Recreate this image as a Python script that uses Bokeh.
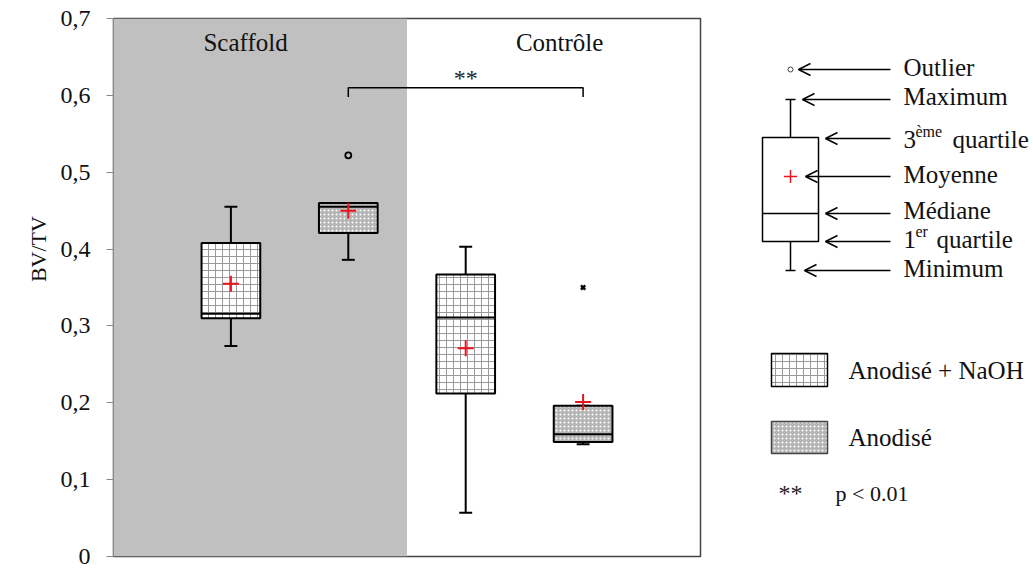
import math
from bokeh.plotting import figure
from bokeh.layouts import row
from bokeh.models import (Range1d, FixedTicker, CustomJSTickFormatter, BoxAnnotation,
                          Arrow, OpenHead, ColumnDataSource)
from bokeh.core.properties import value
from bokeh.embed import file_html
from bokeh.resources import INLINE

# ---------------- data ----------------
groups = ["Scaffold NaOH", "Scaffold Anodisé", "Contrôle NaOH", "Contrôle Anodisé"]
treatment = ["NaOH", "Anodisé", "NaOH", "Anodisé"]
positions = [2, 4, 6, 8]
minimum = [0.274, 0.386, 0.057, 0.146]
q1 = [0.310, 0.421, 0.212, 0.149]
median = [0.316, 0.455, 0.311, 0.159]
q3 = [0.408, 0.460, 0.367, 0.196]
maximum = [0.455, 0.460, 0.403, 0.196]
mean = [0.355, 0.450, 0.271, 0.201]
outlier_circle_x = [4]
outlier_circle_y = [0.522]
outlier_cross_x = [8]
outlier_cross_y = [0.350]
y_ticks = [0, 0.1, 0.2, 0.3, 0.4, 0.5, 0.6, 0.7]
section_labels = ["Scaffold", "Contrôle"]
y_title = "BV/TV"
sig_pair = [4, 8]
sig_text = "**"

FONT = value("Liberation Serif")
TXT = "#111111"
TOP, BOTTOM = 18, 12

# ---------------- y title strip ----------------
tw = 50
pt = figure(width=tw, height=568, x_range=Range1d(0, tw), y_range=Range1d(0, 0.7),
            output_backend="svg", toolbar_location=None,
            min_border_left=0, min_border_right=0, min_border_top=TOP, min_border_bottom=BOTTOM)
pt.axis.visible = False
pt.grid.visible = False
pt.outline_line_color = None
pt.text(x=[38], y=[0.40], text=[y_title], angle=math.pi / 2, text_font=FONT,
        text_font_size="22px", text_align="center", text_baseline="middle", text_color=TXT)

# ---------------- main plot ----------------
p = figure(width=708 - tw, height=568, x_range=Range1d(0, 10), y_range=Range1d(0, 0.7),
           output_backend="svg", toolbar_location=None,
           min_border_left=113 - tw, min_border_right=8, min_border_top=TOP, min_border_bottom=BOTTOM)
p.xaxis.visible = False
p.grid.visible = False
p.outline_line_color = "#444444"
p.outline_line_width = 1.5
p.background_fill_color = "white"
p.border_fill_color = "white"

yax = p.yaxis[0]
yax.ticker = FixedTicker(ticks=y_ticks)
yax.formatter = CustomJSTickFormatter(code="return tick == 0 ? '0' : tick.toFixed(1).replace('.', ',');")
yax.major_label_text_font = "Liberation Serif"
yax.major_label_text_font_size = "24px"
yax.major_label_text_color = TXT
yax.major_label_standoff = 16
yax.axis_line_color = "#888888"
yax.major_tick_line_color = "#888888"
yax.major_tick_out = 7
yax.major_tick_in = 0
yax.minor_tick_line_color = None

p.add_layout(BoxAnnotation(right=5, fill_color="#c0c0c0", fill_alpha=1.0, line_color=None, level="underlay"))

half = 0.5
cap = 0.11
styles = {
    "NaOH": dict(fill_color="white", hatch_pattern="+", hatch_color="#9a9a9a", hatch_scale=7, hatch_weight=1),
    "Anodisé": dict(fill_color="#b4b4b4", hatch_pattern="dot", hatch_color="white", hatch_scale=4, hatch_weight=1),
}

for i, x in enumerate(positions):
    p.segment(x0=[x, x], y0=[q3[i], q1[i]], x1=[x, x], y1=[maximum[i], minimum[i]],
              line_color="black", line_width=2)
    p.segment(x0=[x - cap, x - cap], y0=[maximum[i], minimum[i]], x1=[x + cap, x + cap],
              y1=[maximum[i], minimum[i]], line_color="black", line_width=2)
    st = styles[treatment[i]]
    p.quad(left=[x - half], right=[x + half], bottom=[q1[i]], top=[q3[i]],
           line_color="black", line_width=2, **st)
    p.segment(x0=[x - half], y0=[median[i]], x1=[x + half], y1=[median[i]],
              line_color="black", line_width=2)

p.scatter(x=positions, y=mean, marker="cross", size=16, line_color="#e8141e", line_width=2)
p.scatter(x=outlier_circle_x, y=outlier_circle_y, marker="circle", size=6,
          fill_color=None, line_color="black", line_width=1.8)
p.scatter(x=outlier_cross_x, y=outlier_cross_y, marker="x", size=6,
          line_color="black", line_width=2.5)

by = 0.61
tick_len = 0.012
p.line(x=[sig_pair[0], sig_pair[0], sig_pair[1], sig_pair[1]],
       y=[by - tick_len, by, by, by - tick_len], line_color="black", line_width=1.5)
p.text(x=[(sig_pair[0] + sig_pair[1]) / 2], y=[by + 0.013], text=[sig_text],
       text_font=FONT, text_font_size="24px", text_align="center", text_baseline="middle",
       text_color="#222222")

p.text(x=[2.25, 7.6], y=[0.669, 0.669], text=section_labels, text_font=FONT,
       text_font_size="25px", text_align="center", text_baseline="middle", text_color=TXT)

# ---------------- legend figure (page-pixel coordinates) ----------------
LW = 1033 - 708
lg = figure(width=LW, height=568, x_range=Range1d(0, LW), y_range=Range1d(568 - BOTTOM, TOP),
            output_backend="svg", toolbar_location=None,
            min_border_left=0, min_border_right=0, min_border_top=TOP, min_border_bottom=BOTTOM)
lg.axis.visible = False
lg.grid.visible = False
lg.outline_line_color = None

ex_c = 82
ex_half = 28
ex_out, ex_max, ex_q3, ex_mean, ex_med, ex_q1, ex_min = 69, 99, 137, 176, 213, 241, 270
lg.segment(x0=[ex_c, ex_c], y0=[ex_q3, ex_q1], x1=[ex_c, ex_c], y1=[ex_max, ex_min],
           line_color="black", line_width=1.5)
lg.segment(x0=[ex_c - 5, ex_c - 5], y0=[ex_max, ex_min], x1=[ex_c + 5, ex_c + 5],
           y1=[ex_max, ex_min], line_color="black", line_width=1.5)
lg.quad(left=[ex_c - ex_half], right=[ex_c + ex_half], top=[ex_q3], bottom=[ex_q1],
        fill_color="white", line_color="black", line_width=1.5)
lg.segment(x0=[ex_c - ex_half], y0=[ex_med], x1=[ex_c + ex_half], y1=[ex_med],
           line_color="black", line_width=1.5)
lg.scatter(x=[ex_c], y=[ex_mean], marker="cross", size=13, line_color="#e8141e", line_width=1.5)
lg.scatter(x=[ex_c], y=[ex_out], marker="circle", size=5, fill_color=None,
           line_color="#444444", line_width=1)

arrow_src = ColumnDataSource(dict(
    x_start=[182] * 7,
    x_end=[90, 94, 117, 97, 117, 117, 96],
    y=[69, 99, 138, 176, 213, 241, 270],
))
lg.add_layout(Arrow(end=OpenHead(size=12, line_width=1.5, line_color="black"),
                    x_start="x_start", y_start="y", x_end="x_end", y_end="y",
                    source=arrow_src, line_width=1.5, line_color="black"))

leg_font_size = "25px"
lg.text(x=[195, 195, 195, 195, 195], y=[67, 96, 174, 210, 268],
        text=["Outlier", "Maximum", "Moyenne", "Médiane", "Minimum"],
        text_font=FONT, text_font_size=leg_font_size, text_baseline="middle", text_color=TXT)
lg.text(x=[195, 195], y=[139, 239], text=["3", "1"], text_font=FONT,
        text_font_size=leg_font_size, text_baseline="middle", text_color=TXT)
lg.text(x=[207, 207], y=[131, 231], text=["ème", "er"], text_font=FONT,
        text_font_size="16px", text_baseline="middle", text_color=TXT)
lg.text(x=[244, 228], y=[139, 239], text=["quartile", "quartile"], text_font=FONT,
        text_font_size=leg_font_size, text_baseline="middle", text_color=TXT)

lg.quad(left=[63], right=[119], top=[353], bottom=[386], line_color="black", line_width=1.5,
        **styles["NaOH"])
lg.quad(left=[63], right=[119], top=[421], bottom=[453], line_color="#444444", line_width=1.5,
        **styles["Anodisé"])
lg.text(x=[140, 140], y=[370, 437], text=["Anodisé + NaOH", "Anodisé"], text_font=FONT,
        text_font_size=leg_font_size, text_baseline="middle", text_color=TXT)
lg.text(x=[82], y=[492], text=[sig_text], text_font=FONT, text_font_size="24px",
        text_align="center", text_baseline="middle", text_color="#222222")
lg.text(x=[127], y=[493], text=["p < 0.01"], text_font=FONT, text_font_size="22px",
        text_baseline="middle", text_color=TXT)

layout = row(pt, p, lg)
open("out.html", "w").write(file_html(layout, INLINE))
